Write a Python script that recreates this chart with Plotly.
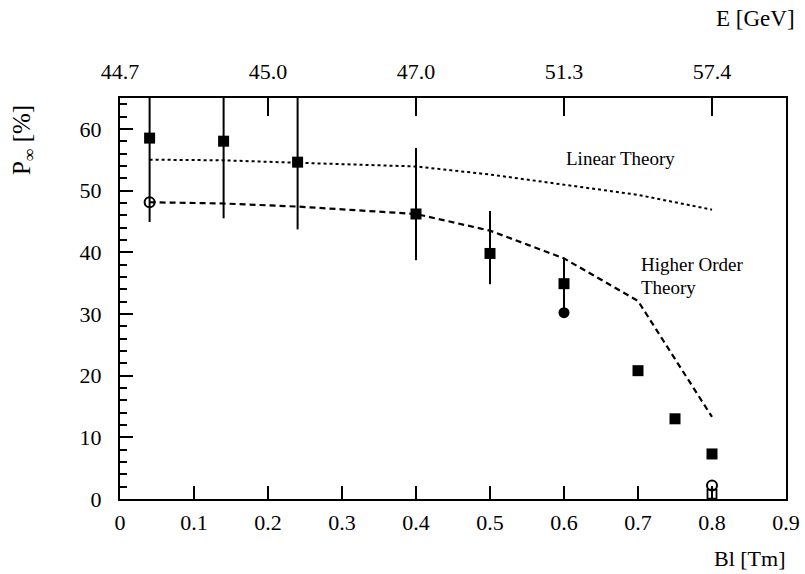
import plotly.graph_objects as go

# ---------------- data ----------------
theory_x = [0.04, 0.14, 0.24, 0.40, 0.50, 0.60, 0.70, 0.80]
linear_theory = [55.0, 54.9, 54.5, 53.9, 52.6, 50.9, 49.3, 46.9]
higher_order = [48.1, 47.9, 47.4, 46.2, 43.5, 39.0, 32.1, 13.3]

meas_x = [0.04, 0.14, 0.24, 0.40, 0.50, 0.60, 0.70, 0.75, 0.80]
meas_y = [58.5, 58.0, 54.6, 46.2, 39.8, 34.9, 20.8, 13.0, 7.3]
err_plus = [13.6, 12.5, 10.9, 10.7, 6.9, 4.2, 0, 0, 0]
err_minus = [13.6, 12.5, 10.9, 7.5, 5.0, 4.5, 0, 0, 0]

open_circle_x = [0.04, 0.80]
open_circle_y = [48.1, 2.2]
filled_circle_x = [0.60]
filled_circle_y = [30.2]
open_square_x = [0.80]
open_square_y = [0.8]

bottom_ticks = [0, 0.1, 0.2, 0.3, 0.4, 0.5, 0.6, 0.7, 0.8, 0.9]
bottom_labels = ["0", "0.1", "0.2", "0.3", "0.4", "0.5", "0.6", "0.7", "0.8", "0.9"]
top_ticks = [0, 0.2, 0.4, 0.6, 0.8]
top_labels = ["44.7", "45.0", "47.0", "51.3", "57.4"]
y_ticks = [0, 10, 20, 30, 40, 50, 60]

FONT = "Liberation Serif"
W, H = 805, 574
L, R, T, B = 120, 19, 98, 75
pw, ph = W - L - R, H - T - B

def px_x(p):
    return (p - L) / pw

def px_y(p):
    return (H - B - p) / ph

fig = go.Figure()

fig.add_trace(go.Scatter(x=theory_x, y=linear_theory, mode="lines",
                         line=dict(color="black", width=2, dash="dot"),
                         showlegend=False, hoverinfo="skip"))
fig.add_trace(go.Scatter(x=theory_x, y=higher_order, mode="lines",
                         line=dict(color="black", width=2.2, dash="6px,4px"),
                         showlegend=False, hoverinfo="skip"))
fig.add_trace(go.Scatter(x=meas_x, y=meas_y, mode="markers",
                         marker=dict(symbol="square", size=11, color="black"),
                         error_y=dict(type="data", symmetric=False, array=err_plus,
                                      arrayminus=err_minus, width=0, thickness=2,
                                      color="black"),
                         showlegend=False))
fig.add_trace(go.Scatter(x=open_circle_x, y=open_circle_y, mode="markers",
                         marker=dict(symbol="circle-open", size=10, color="black",
                                     line=dict(width=2)),
                         showlegend=False))
fig.add_trace(go.Scatter(x=filled_circle_x, y=filled_circle_y, mode="markers",
                         marker=dict(symbol="circle", size=11, color="black"),
                         showlegend=False))
fig.add_trace(go.Scatter(x=open_square_x, y=open_square_y, mode="markers",
                         marker=dict(symbol="square-open", size=9, color="black",
                                     line=dict(width=1.8)),
                         cliponaxis=False, showlegend=False))
# invisible trace to activate top axis
fig.add_trace(go.Scatter(x=[0, 0.9], y=[0, 0], xaxis="x2", mode="markers",
                         marker=dict(opacity=0), showlegend=False, hoverinfo="skip"))

fig.update_layout(
    width=W, height=H, autosize=False,
    margin=dict(l=L, r=R, t=T, b=B, autoexpand=False),
    paper_bgcolor="white", plot_bgcolor="white",
    font=dict(family=FONT, color="black", size=22),
    xaxis=dict(range=[0, 0.9], tickvals=bottom_ticks, ticktext=bottom_labels,
               ticks="inside", ticklen=13, tickwidth=1.5, tickcolor="black",
               showline=True, linewidth=2, linecolor="black", mirror=True,
               showgrid=False, zeroline=False, ticklabelstandoff=3,
               automargin=False, tickfont=dict(size=22, family=FONT)),
    xaxis2=dict(range=[0, 0.9], overlaying="x", side="top", tickvals=top_ticks,
                ticktext=top_labels, ticks="inside", ticklen=18, tickwidth=1.5,
                tickcolor="black", showgrid=False, zeroline=False, showline=False,
                ticklabelstandoff=14, automargin=False,
                tickfont=dict(size=22, family=FONT)),
    yaxis=dict(range=[0, 65], tickvals=y_ticks, ticks="inside", ticklen=13,
               tickwidth=1.5, tickcolor="black",
               minor=dict(dtick=2, tick0=0, ticks="inside", ticklen=7,
                          tickwidth=1.5, tickcolor="black"),
               showline=True, linewidth=2, linecolor="black", mirror=True,
               showgrid=False, zeroline=False, ticklabelstandoff=12,
               automargin=False, tickfont=dict(size=22, family=FONT)),
)

fig.add_annotation(x=0.677, y=55.2, xref="x", yref="y", text="Linear Theory",
                   showarrow=False, xanchor="center", yanchor="middle",
                   font=dict(size=19, family=FONT))
fig.add_annotation(x=0.701, y=38.0, xref="x", yref="y", text="Higher Order",
                   showarrow=False, xanchor="left", yanchor="middle",
                   font=dict(size=19, family=FONT))
fig.add_annotation(x=0.701, y=34.3, xref="x", yref="y", text="Theory",
                   showarrow=False, xanchor="left", yanchor="middle",
                   font=dict(size=19, family=FONT))

fig.add_annotation(x=px_x(797), y=px_y(19), xref="paper", yref="paper",
                   text="E [GeV]", showarrow=False, xanchor="right", yanchor="middle",
                   font=dict(size=23, family=FONT))
fig.add_annotation(x=px_x(788), y=px_y(558), xref="paper", yref="paper",
                   text="Bl [Tm]", showarrow=False, xanchor="right", yanchor="middle",
                   font=dict(size=22, family=FONT))
fig.add_annotation(x=px_x(23), y=px_y(140), xref="paper", yref="paper",
                   text="P<sub>∞</sub> [%]", showarrow=False, textangle=-90,
                   xanchor="center", yanchor="middle",
                   font=dict(size=25, family=FONT))

fig.write_html("out.html")
